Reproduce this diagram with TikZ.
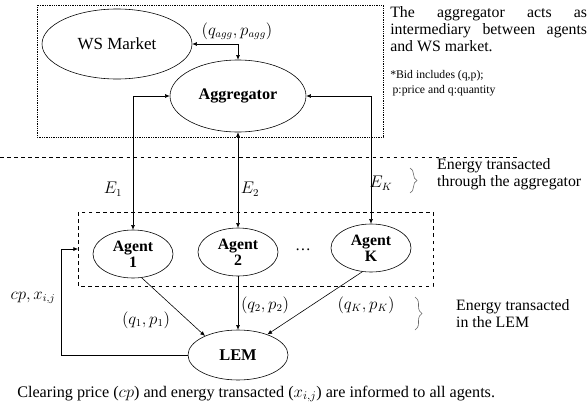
\documentclass[tikz,border=0pt]{standalone}
\usepackage{amsmath}
\usepackage{amssymb}
\usepackage{fontspec}
\setmainfont{Liberation Serif}
\usetikzlibrary{shapes.geometric,arrows.meta,decorations.pathreplacing}

\begin{document}
\begin{tikzpicture}
[x=0.3mm,y=-0.3mm,line width=0.5pt,>={Latex[length=4pt,width=3.5pt]},
 font=\fontsize{13.5}{14.5}\selectfont]
\tikzstyle{oval node}=[ellipse,draw,inner sep=0]
\tikzstyle{agent node}=[oval node,minimum width=24mm,minimum height=14.4mm,align=center,font=\fontsize{13.5}{13.5}\selectfont\bfseries]
\tikzstyle{side note}=[align=left,anchor=west]
\tikzstyle{curly}=[decorate,decoration={brace,amplitude=6pt},gray!80!black]

\useasboundingbox (0,0) rectangle (587,409);

\draw[densely dotted] (37,5) rectangle (383,137);
\draw[dashed] (0,157) -- (518,157);
\draw[dashed] (78,212) rectangle (433,286);
\coordinate(box) at (78,249);

\node(ws)[oval node,minimum width=45mm,minimum height=21mm,font=\fontsize{14.5}{15}\selectfont]at(117,44){WS Market};
\node(agg)[oval node,minimum width=40.8mm,minimum height=21.6mm,font=\fontsize{13.8}{14.5}\selectfont\bfseries]at(238,96){Aggregator};
\node(a1)[agent node]at(133,254){Agent\\1};
\node(a2)[agent node]at(238,252){Agent\\2};
\node(ak)[agent node]at(371,248){Agent\\K};
\node(lem)[oval node,minimum width=30mm,minimum height=15mm,font=\fontsize{14}{14.5}\selectfont\bfseries]at(238,355){LEM};
\node(dots)at(303,250){\dots};

\draw[<->] (ws.east) -| (agg.north);
\draw[<->] (a1.north) |- (agg.west);
\draw[<->] (agg.south) -- (a2.north);
\draw[<->] (agg.east) -| (ak.north);
\draw[->] (a1.-70) -- (lem.150);
\draw[->] (a2.south) -- (lem.north);
\draw[->] (ak.-110) -- (lem.35);
\draw[->] (lem.west) -- ++(-126,0) |- (box);

\node(bid)at(237,31){$(q_{agg},p_{agg})$};
\node(e1)at(113,189){$E_1$};
\node(e2)at(250,189){$E_2$};
\node(ek)at(381,183){$E_K$};
\node(qp1)at(146,320){$(q_1,p_1)$};
\node(qp2)at(265,305){$(q_2,p_2)$};
\node(qpk)at(366,305){$(q_K,p_K)$};
\node(clr)at(33,298){$cp,x_{i,j}$};

\draw[curly] (410,168) -- (410,193);
\node(agg note)[side note]at(433,174){Energy transacted\\through the aggregator};
\draw[curly] (415,297) -- (415,330);
\node(lem note)[side note]at(452,314){Energy transacted\\in the LEM};

\node(role)[anchor=north west,text width=168pt,align=justify,inner sep=0]at(390,6)
  {The aggregator acts as\linebreak intermediary between agents\linebreak and WS market.};
\node(bid note)[anchor=north west,align=left,inner sep=0,font=\fontsize{10}{12.5}\selectfont]at(390,70)
  {*Bid includes (q,p);\\\hspace{2pt}p:price and q:quantity};
\node(caption)[anchor=west,inner sep=0,font=\fontsize{13.8}{14.5}\selectfont]at(17,394)
  {Clearing price ($cp$) and energy transacted ($x_{i,j}$) are informed to all agents.};
\end{tikzpicture}
\end{document}
